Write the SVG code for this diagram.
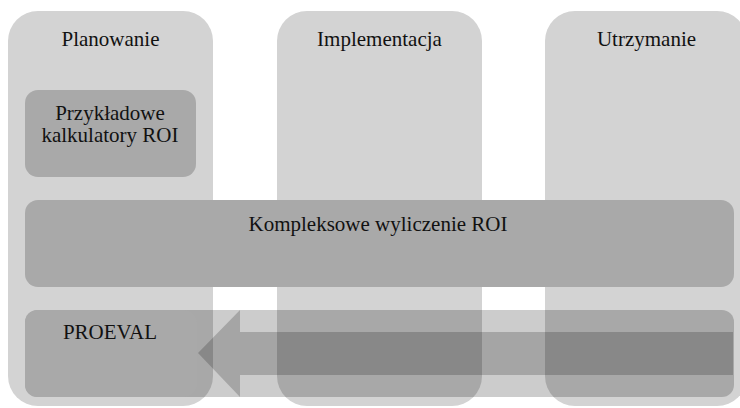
<svg xmlns="http://www.w3.org/2000/svg" width="740" height="408" viewBox="0 0 740 408">
<style>
.col{fill:#d3d3d3}
.box{fill:#a9a9a9}
.t{font-family:"Liberation Serif","Times New Roman",serif;font-size:21px;fill:#111;text-anchor:middle}
</style>
<rect width="740" height="408" fill="#ffffff"/>
<g id="col-planowanie">
<rect class="col" x="8" y="11" width="205" height="395" rx="30"/>
<text class="t" x="110.5" y="46">Planowanie</text>
</g>
<g id="col-implementacja">
<rect class="col" x="277" y="11" width="205" height="395" rx="30"/>
<text class="t" x="379.5" y="46">Implementacja</text>
</g>
<g id="col-utrzymanie">
<rect class="col" x="545" y="11" width="202" height="395" rx="30"/>
<text class="t" x="646.5" y="46">Utrzymanie</text>
</g>
<g id="connectors">
<rect x="25" y="310" width="709" height="87" rx="12" fill="#000" fill-opacity="0.2"/>
<path d="M198,353 L240,310 L240,332 L733,332 L733,375 L240,375 L240,397 Z" fill="#000" fill-opacity="0.19"/>
</g>
<g id="przykladowe">
<rect class="box" x="25" y="90" width="171" height="87" rx="13"/>
<text class="t" x="110" y="120">Przykładowe</text>
<text class="t" x="110" y="142">kalkulatory ROI</text>
</g>
<g id="kompleksowe">
<rect class="box" x="25" y="200" width="709" height="87" rx="13"/>
<text class="t" x="378" y="231">Kompleksowe wyliczenie ROI</text>
</g>
<g id="proeval">
<rect class="box" x="25" y="310" width="172" height="87" rx="13"/>
<text class="t" x="110" y="339">PROEVAL</text>
</g>
</svg>
